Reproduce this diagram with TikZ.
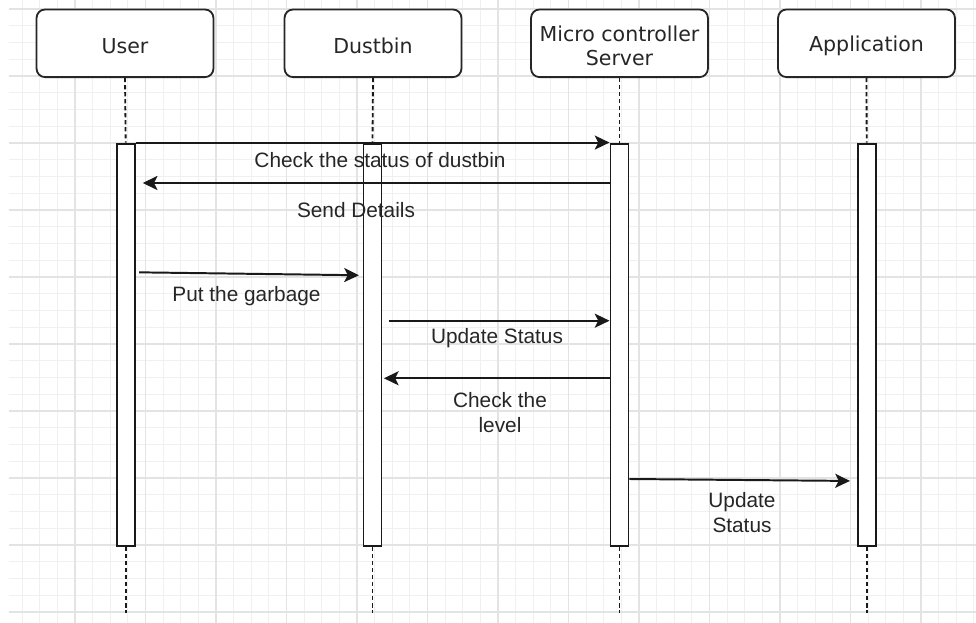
\documentclass[tikz,border=0pt]{standalone}
\usepackage{fontspec}
\setmainfont{Liberation Sans}
\newfontfamily\hdrfont{DejaVu Sans}
\usetikzlibrary{arrows.meta}
% one line of a participant caption, set a little below its nominal place
\newcommand{\hdrline}[1]{\raisebox{-2pt}[\height][\depth]{#1}}

\begin{document}
\begin{tikzpicture}[x=0.025cm,y=-0.025cm,
  hdr/.style={draw=black!85, line width=1.3pt, rounded corners=6pt, fill=white,
    minimum width=4.42cm, minimum height=1.69cm, inner sep=0pt, align=center,
    font=\hdrfont\fontsize{14.6}{17}\selectfont, text=black!85},
  actbar/.style={draw=black!90, line width=1.4pt, fill=white,
    minimum width=0.45cm, minimum height=10.06cm, inner sep=0pt},
  life/.style={draw=black!90, line width=1.3pt, dash pattern=on 3pt off 2pt},
  msg/.style={draw=black!90, line width=1.4pt,
    -{Stealth[length=10.5pt,width=10pt,inset=2.5pt]}},
  lbl/.style={font=\fontsize{14.8}{17.5}\selectfont, text=black!85,
    align=center, inner sep=0pt},
  minorgrid/.style={draw=black!6, line width=0.6pt},
  majorgrid/.style={draw=black!11, line width=0.8pt}
]
% canvas
\useasboundingbox (0,0) rectangle (976,623);
\fill[white] (0,0) rectangle (976,623);

% background grid
\begin{scope}
  \clip (9,0) rectangle (976,623);
  \foreach \k in {0,...,55} \draw[minorgrid] ({4.5+17.625*\k},0) -- ({4.5+17.625*\k},623);
  \foreach \k in {-1,...,37} \draw[minorgrid] (0,{9+16.75*\k}) -- (976,{9+16.75*\k});
  \foreach \k in {0,...,13} \draw[majorgrid] ({4.5+70.5*\k},0) -- ({4.5+70.5*\k},623);
  \foreach \k in {0,...,9} \draw[majorgrid] (0,{9+67*\k}) -- (976,{9+67*\k});
\end{scope}

% participants
\node[hdr] (user) at (125,43.3) {\hdrline{User}};
\node[hdr] (dust) at (373,43.3) {\hdrline{Dustbin}};
\node[hdr] (mcu)  at (619.5,43.3) {\hdrline{Micro controller}\\\hdrline{Server}};
\node[hdr] (app)  at (866.5,43.3) {\hdrline{Application}};

% activation bars
\node[actbar] (ubar) at (125.7,344.8) {};
\node[actbar] (dbar) at (372.5,344.8) {};
\node[actbar] (mbar) at (619.5,344.8) {};
\node[actbar] (abar) at (866.7,344.8) {};

% lifeline ends
\coordinate (uend) at (125.7,613);
\coordinate (dend) at (372.5,613);
\coordinate (mend) at (619.5,613);
\coordinate (aend) at (866.7,613);

% lifelines
\draw[life] (user.south) -- (ubar.north);
\draw[life] (dust.south) -- (dbar.north);
\draw[life] (mcu.south)  -- (mbar.north);
\draw[life] (app.south)  -- (abar.north);
\draw[life] (ubar.south) -- (uend);
\draw[life] (dbar.south) -- (dend);
\draw[life] (mbar.south) -- (mend);
\draw[life] (abar.south) -- (aend);

% message levels
\coordinate (y2) at (0,183);
\coordinate (y3a) at (0,272.3);
\coordinate (y3b) at (0,275.3);
\coordinate (y4) at (0,320.7);
\coordinate (y5) at (0,378.3);
\coordinate (y6a) at (0,479);
\coordinate (y6b) at (0,481);

% messages
\draw[msg] (ubar.north east) -- (mbar.north west);
\draw[msg, shorten >=5pt] (mbar.west |- y2) -- (ubar.east |- y2);
\draw[msg, shorten <=2.5pt, shorten >=2.5pt] (ubar.east |- y3a) -- (dbar.west |- y3b);
\draw[msg, shorten <=4.4pt] (dbar.east |- y4) -- (mbar.west |- y4);
\draw[msg, shorten >=1pt] (mbar.west |- y5) -- (dbar.east |- y5);
\draw[msg, shorten >=4.8pt] (mbar.east |- y6a) -- (abar.west |- y6b);

% message labels
\node[lbl] (l1) at (380,160) {Check the status of dustbin};
\node[lbl] (l2) at (356,210) {Send Details};
\node[lbl] (l3) at (246.5,296) {Put the garbage};
\node[lbl] (l4) at (497,338) {Update Status};
\node[lbl] (l5) at (500,412.5) {Check the\\level};
\node[lbl] (l6) at (742,512.5) {Update\\Status};
\end{tikzpicture}
\end{document}
